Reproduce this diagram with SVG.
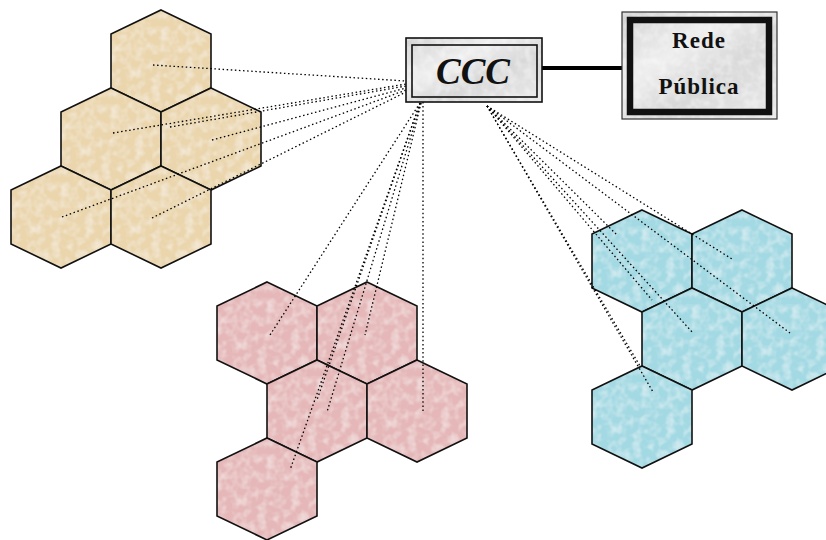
<svg xmlns="http://www.w3.org/2000/svg" width="826" height="540" viewBox="0 0 826 540">
<style>
.ol{fill:none;stroke:#111;stroke-width:1.6;stroke-linejoin:miter}
.beige{fill:#EAD5AC}
.pink{fill:#E5B7B8}
.blue{fill:#A2D9E3}
.dot{stroke:#000;stroke-width:1.3;stroke-dasharray:1.5 2.6;fill:none}
.lbl{font-family:"Liberation Serif","Times New Roman",serif;font-weight:bold;fill:#111;text-anchor:middle}
</style>
<defs>
<path id="h" d="M0,-51 L50,-27 L50,27 L0,51 L-50,27 L-50,-27 Z"/>
<linearGradient id="marble" x1="0" y1="0" x2="1" y2="1">
<stop offset="0" stop-color="#d2d2d2"/>
<stop offset="0.35" stop-color="#eeeeee"/>
<stop offset="0.6" stop-color="#d8d8d8"/>
<stop offset="1" stop-color="#eaeaea"/>
</linearGradient>
<filter id="tex" x="0" y="0" width="1" height="1">
<feTurbulence type="fractalNoise" baseFrequency="0.12" numOctaves="2" seed="4" result="n"/>
<feColorMatrix in="n" type="matrix" values="0 0 0 0 1 0 0 0 0 1 0 0 0 0 1 0.9 0 0 0 -0.35" result="w"/>
<feComposite in="w" in2="SourceGraphic" operator="in" result="wt"/>
<feMerge><feMergeNode in="SourceGraphic"/><feMergeNode in="wt"/></feMerge>
</filter>
</defs>
<rect width="826" height="540" fill="#fff"/>

<g id="beige-cluster">
<g id="b1"><use href="#h" x="161" y="61" class="beige" filter="url(#tex)"/><use href="#h" x="161" y="61" class="ol"/></g>
<g id="b2"><use href="#h" x="111" y="139" class="beige" filter="url(#tex)"/><use href="#h" x="111" y="139" class="ol"/></g>
<g id="b3"><use href="#h" x="211" y="139" class="beige" filter="url(#tex)"/><use href="#h" x="211" y="139" class="ol"/></g>
<g id="b4"><use href="#h" x="61" y="217" class="beige" filter="url(#tex)"/><use href="#h" x="61" y="217" class="ol"/></g>
<g id="b5"><use href="#h" x="161" y="217" class="beige" filter="url(#tex)"/><use href="#h" x="161" y="217" class="ol"/></g>
</g>
<g id="pink-cluster">
<g id="p1"><use href="#h" x="267" y="333" class="pink" filter="url(#tex)"/><use href="#h" x="267" y="333" class="ol"/></g>
<g id="p2"><use href="#h" x="367" y="333" class="pink" filter="url(#tex)"/><use href="#h" x="367" y="333" class="ol"/></g>
<g id="p3"><use href="#h" x="317" y="411" class="pink" filter="url(#tex)"/><use href="#h" x="317" y="411" class="ol"/></g>
<g id="p4"><use href="#h" x="417" y="411" class="pink" filter="url(#tex)"/><use href="#h" x="417" y="411" class="ol"/></g>
<g id="p5"><use href="#h" x="267" y="489" class="pink" filter="url(#tex)"/><use href="#h" x="267" y="489" class="ol"/></g>
</g>
<g id="blue-cluster">
<g id="c1"><use href="#h" x="642" y="261" class="blue" filter="url(#tex)"/><use href="#h" x="642" y="261" class="ol"/></g>
<g id="c2"><use href="#h" x="742" y="261" class="blue" filter="url(#tex)"/><use href="#h" x="742" y="261" class="ol"/></g>
<g id="c3"><use href="#h" x="692" y="339" class="blue" filter="url(#tex)"/><use href="#h" x="692" y="339" class="ol"/></g>
<g id="c4"><use href="#h" x="792" y="339" class="blue" filter="url(#tex)"/><use href="#h" x="792" y="339" class="ol"/></g>
<g id="c5"><use href="#h" x="642" y="417" class="blue" filter="url(#tex)"/><use href="#h" x="642" y="417" class="ol"/></g>
</g>

<g id="connectors">
<line x1="542" y1="68" x2="627" y2="68" stroke="#000" stroke-width="4"/>
<g class="dot">
<line x1="153" y1="65" x2="406" y2="81"/>
<line x1="113" y1="133" x2="406" y2="84"/>
<line x1="170" y1="127" x2="406" y2="86"/>
<line x1="212" y1="140" x2="406" y2="88"/>
<line x1="62" y1="217" x2="406" y2="90"/>
<line x1="152" y1="218" x2="406" y2="92"/>
<line x1="420" y1="103" x2="270" y2="335"/>
<line x1="421" y1="103" x2="365" y2="335"/>
<line x1="421" y1="103" x2="327" y2="412"/>
<line x1="420" y1="103" x2="317" y2="400"/>
<line x1="420" y1="103" x2="290" y2="470"/>
<line x1="423" y1="102" x2="423" y2="412"/>
<line x1="487" y1="106" x2="732" y2="259"/>
<line x1="487" y1="106" x2="790" y2="333"/>
<line x1="487" y1="106" x2="693" y2="333"/>
<line x1="487" y1="106" x2="618" y2="236"/>
<line x1="487" y1="106" x2="652" y2="300"/>
<line x1="487" y1="106" x2="653" y2="392"/>
<line x1="487" y1="106" x2="640" y2="366"/>
</g>
</g>

<g id="ccc">
<rect x="406" y="38" width="136" height="64" fill="url(#marble)" filter="url(#tex)"/>
<rect x="406" y="38" width="136" height="64" fill="none" stroke="#111" stroke-width="1.6"/>
<rect x="412" y="45" width="125" height="52" fill="none" stroke="#111" stroke-width="1.6"/>
<text x="473" y="84" class="lbl" font-style="italic" font-size="37">CCC</text>
</g>

<g id="rede-publica">
<rect x="622" y="12" width="155" height="107" fill="url(#marble)" filter="url(#tex)"/>
<rect x="622" y="12" width="155" height="107" fill="none" stroke="#333" stroke-width="1.2"/>
<rect x="630" y="20" width="139" height="92" fill="none" stroke="#111" stroke-width="6.5"/>
<text x="699" y="48" class="lbl" font-size="23" letter-spacing="1">Rede</text>
<text x="699" y="94" class="lbl" font-size="23" letter-spacing="1">Pública</text>
</g>
</svg>
